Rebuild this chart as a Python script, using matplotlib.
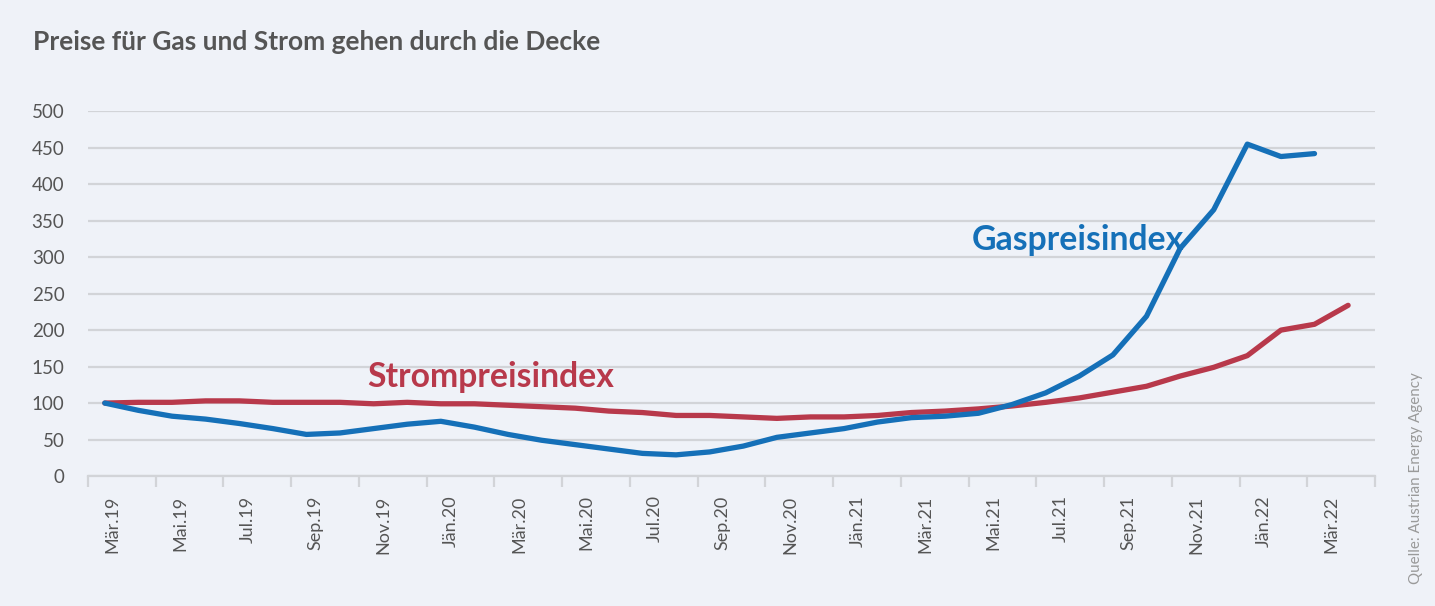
import matplotlib
matplotlib.use("Agg")
import matplotlib.pyplot as plt
import numpy as np

months = ["Mär.19", "Apr.19", "Mai.19", "Jun.19", "Jul.19", "Aug.19", "Sep.19", "Okt.19",
          "Nov.19", "Dez.19", "Jän.20", "Feb.20", "Mär.20", "Apr.20", "Mai.20", "Jun.20",
          "Jul.20", "Aug.20", "Sep.20", "Okt.20", "Nov.20", "Dez.20", "Jän.21", "Feb.21",
          "Mär.21", "Apr.21", "Mai.21", "Jun.21", "Jul.21", "Aug.21", "Sep.21", "Okt.21",
          "Nov.21", "Dez.21", "Jän.22", "Feb.22", "Mär.22", "Apr.22"]

gas = [100, 90, 82, 78, 72, 65, 57, 59, 65, 71, 75, 67, 57, 49, 43, 37, 31, 29, 33, 41,
       53, 59, 65, 74, 80, 82, 86, 98, 114, 137, 166, 219, 312, 365, 455, 438, 442]

strom = [100, 101, 101, 103, 103, 101, 101, 101, 99, 101, 99, 99, 97, 95, 93, 89, 87, 83,
         83, 81, 79, 81, 81, 83, 87, 89, 92, 96, 101, 107, 115, 123, 137, 149, 165, 200,
         208, 234]

yticks = [0, 50, 100, 150, 200, 250, 300, 350, 400, 450, 500]

BG = "#eff2f8"
BLUE = "#1570b8"
RED = "#b8394b"
GRID = "#d2d4d8"
TXT = "#555555"

plt.rcParams['font.family'] = ['Lato', 'DejaVu Sans']

fig = plt.figure(figsize=(14.35, 6.06), dpi=100, facecolor=BG)
ax = fig.add_axes([88/1435, 1-476/606, (1375-88)/1435, (476-111.3)/606], facecolor=BG)

x_gas = np.arange(len(gas))
x_strom = np.arange(len(strom))

ax.plot(x_strom, strom, color=RED, lw=3.8, solid_capstyle='round', solid_joinstyle='round', zorder=3)
ax.plot(x_gas, gas, color=BLUE, lw=3.8, solid_capstyle='round', solid_joinstyle='round', zorder=4)

xmin, xmax = -0.5, 37.8
ax.set_xlim(xmin, xmax)
ax.set_ylim(0, 500)

ax.set_yticks(yticks)
ax.set_yticklabels([str(v) for v in yticks], fontsize=13.5, color=TXT)
ax.yaxis.grid(True, color=GRID, lw=1.6)
ax.set_axisbelow(True)

# x ticks: boundaries every two months, labels on every second month
ax.set_xticks(np.linspace(xmin, xmax, 20))
ax.set_xticklabels([])
ax.tick_params(axis='x', which='major', length=8, width=1.6, color=GRID)
ax.tick_params(axis='y', length=0, pad=17)
lab_idx = list(range(0, 37, 2))
ax.set_xticks([i * (xmax - xmin) / 38 + 0.23 for i in lab_idx], minor=True)
ax.set_xticklabels([months[i] for i in lab_idx], minor=True, rotation=90,
                   fontsize=13, color=TXT, va='top', ha='center')
ax.tick_params(axis='x', which='minor', length=0, pad=14)

for s in ['top', 'right', 'left']:
    ax.spines[s].set_visible(False)
ax.spines['bottom'].set_color(GRID)
ax.spines['bottom'].set_linewidth(1.6)

ax.text(7.8, 136, "Strompreisindex", color=RED, fontsize=24.3, fontweight='bold',
        ha='left', va='center')
ax.text(25.8, 323, "Gaspreisindex", color=BLUE, fontsize=24.3, fontweight='bold',
        ha='left', va='center')

fig.text(33/1435, 1-42/606, "Preise für Gas und Strom gehen durch die Decke",
         fontsize=19, fontweight='bold', color="#555555", ha='left', va='center')

fig.text(1416/1435, 1-478/606, "Quelle: Austrian Energy Agency", rotation=90,
         fontsize=10.9, color="#9a9a9a", ha='center', va='center')

fig.savefig("out.png", dpi=100, facecolor=BG)
